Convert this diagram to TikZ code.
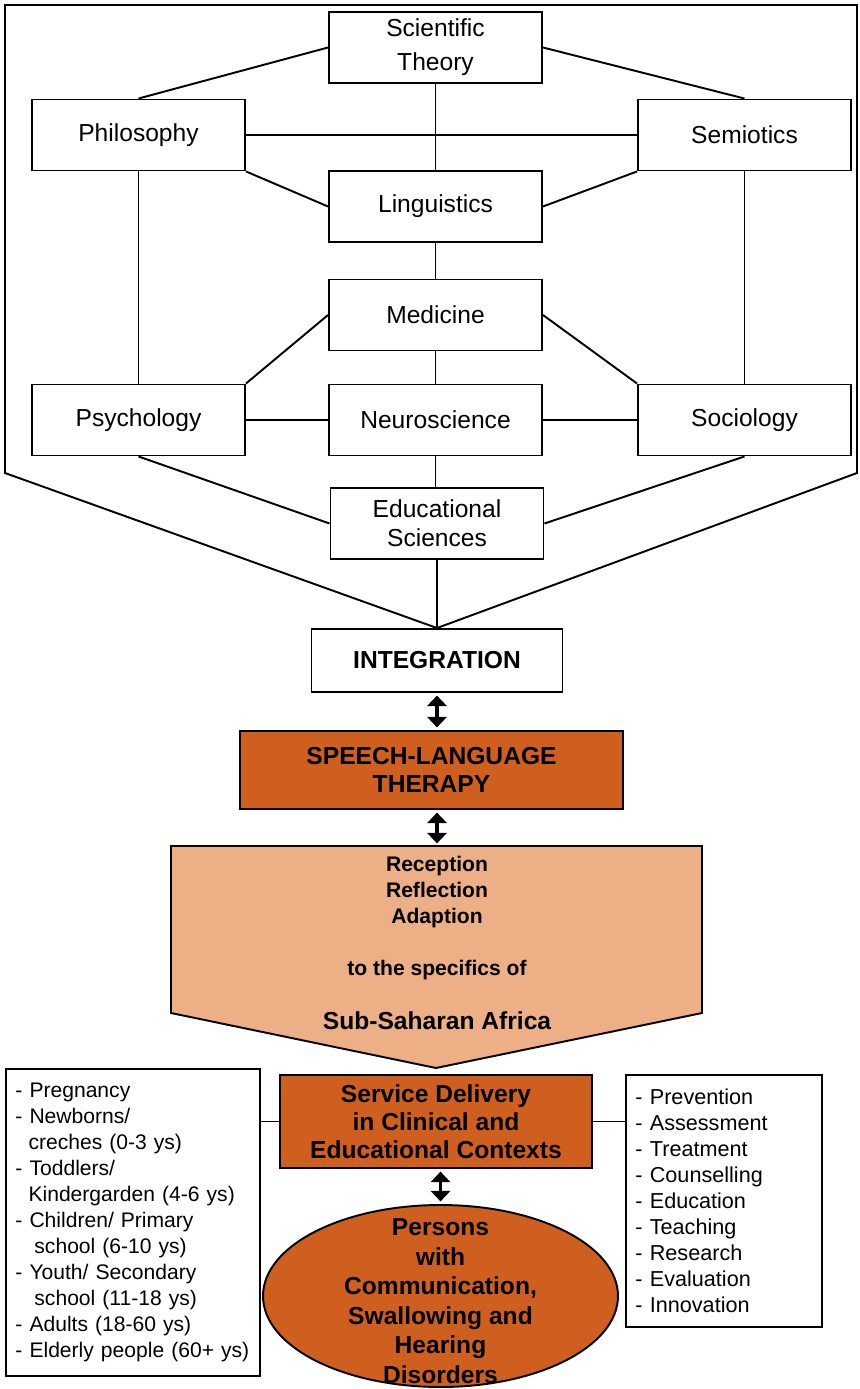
\documentclass[tikz,border=0pt]{standalone}
\usepackage{fontspec}
\setmainfont{Liberation Sans}
\usepackage{xcolor}
\usetikzlibrary{arrows.meta,shapes.geometric}

\definecolor{rust}{RGB}{207,95,31}
\definecolor{peach}{RGB}{236,175,134}

\begin{document}
\begin{tikzpicture}[
    font=\fontsize{14}{16.5}\selectfont,
    line width=1.1pt,
    field/.style={draw, minimum width=4.26cm, minimum height=1.42cm, inner sep=1pt, align=center},
    hub/.style={draw, minimum width=5.02cm, minimum height=1.26cm, font=\fontsize{14}{16.5}\selectfont\bfseries},
    rustbox/.style={draw, fill=rust, align=center, inner sep=1pt, font=\fontsize{14}{16}\selectfont\bfseries},
    listbox/.style={draw, align=left, anchor=north west, inner xsep=0.19cm, font=\fontsize{12}{14.8}\selectfont},
    dbl/.style={{Triangle[width=11pt,length=6pt]}-{Triangle[width=11pt,length=6pt]},
      line width=2.2pt, shorten <=1.5pt, shorten >=1.5pt},
  ]
  \useasboundingbox (0,0) rectangle (17.18,-27.78);

  %% ---- disciplines ------------------------------------------------------
  \node[field] (sci)   at (8.71,-0.95)  {Scientific\\[3pt]Theory};
  \node[field] (phil)  at (2.77,-2.70)  {Philosophy};
  \node[field] (sem)   at (14.89,-2.70) {Semiotics};
  \node[field] (ling)  at (8.71,-4.13)  {Linguistics};
  \node[field] (med)   at (8.71,-6.30)  {Medicine};
  \node[field] (psych) at (2.77,-8.40)  {Psychology};
  \node[field] (neuro) at (8.71,-8.40)  {Neuroscience};
  \node[field] (soc)   at (14.89,-8.40) {Sociology};
  \node[field] (edu)   at (8.74,-10.47) {Educational\\Sciences};
  \node[hub]   (integ) at (8.74,-13.21) {INTEGRATION};

  \draw (sci.west) -- (phil.north);
  \draw (sci.east) -- (sem.north);
  \draw (sci) -- (ling);
  \draw (phil.east) -- (sem.west);
  \draw (phil.south east) -- (ling.west);
  \draw (sem.south west) -- (ling.east);
  \draw (phil) -- (psych);
  \draw (sem) -- (soc);
  \draw (ling) -- (med);
  \draw (med.west) -- (psych.north east);
  \draw (med.east) -- (soc.north west);
  \draw (med) -- (neuro);
  \draw (psych) -- (neuro) -- (soc);
  \draw (neuro.south) -- (neuro.south |- edu.north);
  \draw (psych.south) -- (edu.west);
  \draw (soc.south) -- (edu.east);
  \draw (edu) -- (integ);

  %% ---- outer frame into integration -------------------------------------
  \draw (integ.north) -- (0.10,-9.46) -- (0.10,-0.10) -- (17.14,-0.10)
    -- (17.14,-9.46) -- cycle;

  %% ---- therapy and adaption ---------------------------------------------
  \node[rustbox, minimum width=7.66cm, minimum height=1.56cm] (slt) at (8.63,-15.40)
    {SPEECH-LANGUAGE\\THERAPY};
  \draw[dbl] (integ.south) -- (integ.south |- slt.north);

  \coordinate (pent) at (8.74,-16.92);
  \draw[fill=peach] (3.42,-16.92) -- (14.04,-16.92) -- (14.04,-20.26)
    -- (8.72,-21.36) -- (3.42,-20.26) -- cycle;
  \node[align=center, font=\fontsize{12}{14.7}\selectfont\bfseries] (adapt) at (8.74,-18.36)
    {Reception\\Reflection\\Adaption\\[14.8pt]to the specifics of};
  \node[font=\fontsize{14}{16}\selectfont\bfseries] (region) at (8.74,-20.42) {Sub-Saharan Africa};
  \draw[dbl] (slt.south -| pent) -- (pent);

  %% ---- service delivery --------------------------------------------------
  \node[rustbox, minimum width=6.24cm, minimum height=1.86cm] (sd) at (8.72,-22.43)
    {Service Delivery\\in Clinical and\\Educational Contexts};
  \node[draw, fill=rust, ellipse, minimum width=7.10cm, minimum height=3.64cm] (persons)
    at (8.81,-25.92) {};
  \node[align=center, font=\fontsize{14}{16.8}\selectfont\bfseries] (pers) at ([yshift=-3pt]persons)
    {Persons\\with\\Communication,\\Swallowing and\\Hearing\\Disorders};
  \draw[dbl] (sd.south -| persons) -- (persons.north);

  \node[listbox, text width=4.7cm, minimum height=6.14cm] (ages) at (0.10,-21.36)
    {- Pregnancy\\
     - Newborns/\\
     \hspace*{0.62em}creches (0-3 ys)\\
     - Toddlers/\\
     \hspace*{0.62em}Kindergarden (4-6 ys)\\
     - Children/ Primary\\
     \hspace*{0.9em}school (6-10 ys)\\
     - Youth/ Secondary\\
     \hspace*{0.9em}school (11-18 ys)\\
     - Adults (18-60 ys)\\
     - Elderly people (60+ ys)};
  \node[listbox, text width=3.54cm, minimum height=5.04cm, font=\fontsize{12.3}{14.8}\selectfont]
    (tasks) at (12.50,-21.48)
    {- Prevention\\- Assessment\\- Treatment\\- Counselling\\- Education\\
     - Teaching\\- Research\\- Evaluation\\- Innovation};
  \draw (sd.west) -- (sd.west -| ages.east);
  \draw (sd.east) -- (sd.east -| tasks.west);
\end{tikzpicture}
\end{document}
